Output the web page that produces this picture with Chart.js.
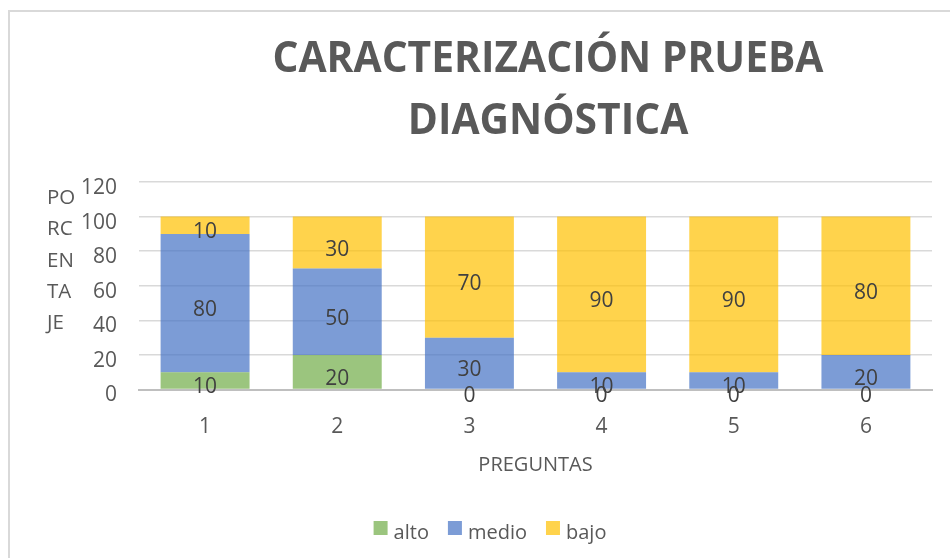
<!DOCTYPE html>
<html><head><meta charset="utf-8">
<script src="https://cdn.jsdelivr.net/npm/chart.js@4/dist/chart.umd.min.js"></script>
<style>
html,body{margin:0;padding:0;background:#fff;width:950px;height:558px;overflow:hidden}
#frame{position:absolute;left:8px;top:10px;width:1000px;height:600px;border:2px solid #d9d9d9;box-sizing:border-box}
#wrap{position:absolute;left:0;top:0;width:950px;height:558px}
</style></head><body>
<div id="frame"></div>
<div id="wrap"><canvas id="c" width="950" height="558"></canvas></div>
<script>
// ---- data ----
const categories = ['1', '2', '3', '4', '5', '6'];
const alto  = [10, 20, 0, 0, 0, 0];
const medio = [80, 50, 30, 10, 10, 20];
const bajo  = [10, 30, 70, 90, 90, 80];
const seriesNames = ['alto', 'medio', 'bajo'];
const yTickValues = [0, 20, 40, 60, 80, 100, 120];
const titleLines = ['CARACTERIZACIÓN PRUEBA', 'DIAGNÓSTICA'];
const yTitleLines = ['PO', 'RC', 'EN', 'TA', 'JE'];
const xTitle = 'PREGUNTAS';

// ---- styles ----
const TEXT = '#595959';
const LABEL = '#404040';
const FONT = "'Open Sans', 'DejaVu Sans', sans-serif";
const colors = ['rgba(112,173,71,0.7)', 'rgba(68,114,196,0.7)', 'rgba(255,192,0,0.7)'];

Chart.defaults.font.family = FONT;
Chart.defaults.color = TEXT;

const titlePlugin = {
  id: 'titlePlugin',
  afterDraw(chart) {
    const ctx = chart.ctx;
    ctx.save();
    ctx.font = 'bold 43px ' + FONT;
    ctx.fillStyle = TEXT;
    ctx.textAlign = 'center';
    ctx.textBaseline = 'alphabetic';
    const w = ctx.measureText(titleLines[0]).width;
    const k = Math.min(1, 551 / w);
    ctx.translate(548, 0);
    ctx.scale(k, 1);
    ctx.fillText(titleLines[0], 0, 72);
    ctx.fillText(titleLines[1], 0, 133.5);
    ctx.restore();
  }
};

const yTitlePlugin = {
  id: 'yTitlePlugin',
  afterDraw(chart) {
    const ctx = chart.ctx;
    ctx.save();
    ctx.font = '20.5px ' + FONT;
    ctx.fillStyle = TEXT;
    ctx.textAlign = 'left';
    ctx.textBaseline = 'middle';
    yTitleLines.forEach((t, i) => ctx.fillText(t, 47, 198 + i * 31.4));
    ctx.restore();
  }
};

const dataLabelPlugin = {
  id: 'dataLabelPlugin',
  afterDatasetsDraw(chart) {
    const ctx = chart.ctx;
    ctx.save();
    ctx.font = '21px ' + FONT;
    ctx.fillStyle = LABEL;
    ctx.textAlign = 'center';
    ctx.textBaseline = 'middle';
    chart.data.datasets.forEach((ds, di) => {
      const meta = chart.getDatasetMeta(di);
      meta.data.forEach((bar, i) => {
        const p = bar.getProps(['x', 'y', 'base'], true);
        ctx.fillText(String(ds.data[i]), p.x, (p.y + p.base) / 2 + 7);
      });
    });
    ctx.restore();
  }
};

const legendPlugin = {
  id: 'legendPlugin',
  afterDraw(chart) {
    const ctx = chart.ctx;
    ctx.save();
    ctx.font = '20px ' + FONT;
    ctx.textBaseline = 'alphabetic';
    ctx.textAlign = 'left';
    const box = 14, gap = 6, spacing = 19;
    const items = chart.data.datasets.map(ds => ({ label: ds.label, color: ds.backgroundColor, w: ctx.measureText(ds.label).width }));
    let total = 0;
    items.forEach((it, i) => { total += box + gap + it.w + (i < items.length - 1 ? spacing : 0); });
    let x = 490 - total / 2;
    items.forEach(it => {
      ctx.fillStyle = it.color;
      ctx.fillRect(x, 521, box, box);
      ctx.fillStyle = TEXT;
      ctx.fillText(it.label, x + box + gap, 539);
      x += box + gap + it.w + spacing;
    });
    ctx.restore();
  }
};

new Chart(document.getElementById('c'), {
  type: 'bar',
  data: {
    labels: categories,
    datasets: [
      { label: seriesNames[0], data: alto,  backgroundColor: colors[0] },
      { label: seriesNames[1], data: medio, backgroundColor: colors[1] },
      { label: seriesNames[2], data: bajo,  backgroundColor: colors[2] }
    ]
  },
  options: {
    responsive: false,
    animation: false,
    layout: { padding: { top: 182, left: 40, right: 18, bottom: 81 } },
    datasets: { bar: { barPercentage: 0.673, categoryPercentage: 1.0, borderWidth: 0 } },
    plugins: { legend: { display: false }, title: { display: false }, tooltip: { enabled: false } },
    scales: {
      x: {
        stacked: true,
        grid: { display: false, drawTicks: false },
        border: { display: true, color: '#bfbfbf', width: 2 },
        ticks: { font: { size: 21 }, color: TEXT, padding: 25 },
        title: { display: true, text: xTitle, font: { size: 20 }, color: TEXT, padding: { top: 0, bottom: 0 } },
        afterFit(s) { s.height = 87.5; }
      },
      y: {
        stacked: true,
        min: 0, max: 120,
        afterBuildTicks(s) { s.ticks = yTickValues.map(v => ({ value: v })); },
        grid: { color: '#d9d9d9', lineWidth: 1.5, drawTicks: false },
        border: { display: false },
        ticks: { font: { size: 21 }, color: TEXT, padding: 22, labelOffset: 6 },
        afterFit(s) { s.width = 99; }
      }
    }
  },
  plugins: [titlePlugin, yTitlePlugin, dataLabelPlugin, legendPlugin]
});
</script>
</body></html>
